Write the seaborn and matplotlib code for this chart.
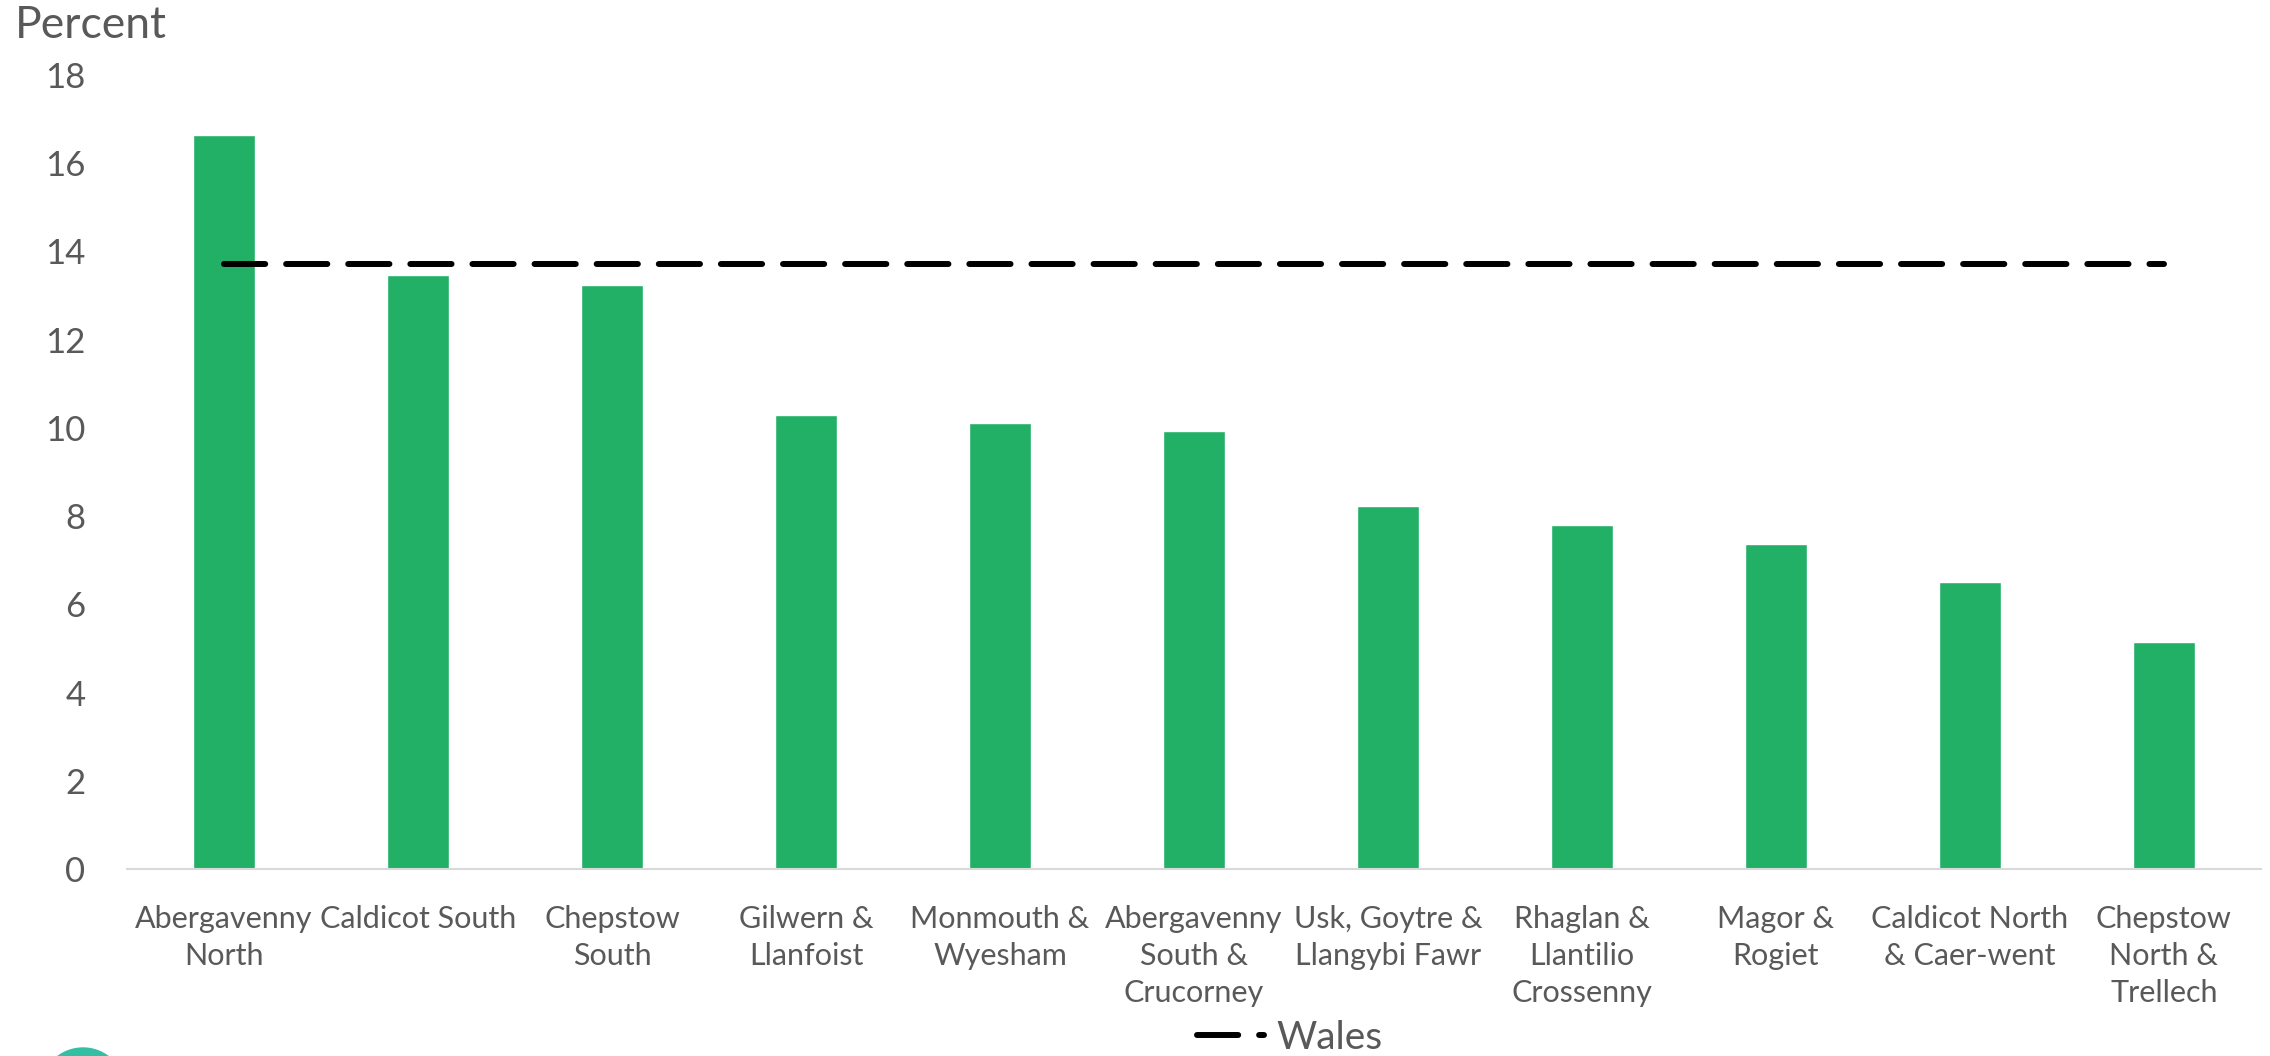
import matplotlib
matplotlib.use("Agg")
import matplotlib.pyplot as plt
import numpy as np
import pandas as pd
import seaborn as sns
from matplotlib.patches import Circle

# Chart data (percent)
areas = [
    "Abergavenny North",
    "Caldicot South",
    "Chepstow South",
    "Gilwern & Llanfoist",
    "Monmouth & Wyesham",
    "Abergavenny South & Crucorney",
    "Usk, Goytre & Llangybi Fawr",
    "Rhaglan & Llantilio Crossenny",
    "Magor & Rogiet",
    "Caldicot North & Caer-went",
    "Chepstow North & Trellech",
]
area_labels = [
    "Abergavenny\nNorth",
    "Caldicot South",
    "Chepstow\nSouth",
    "Gilwern &\nLlanfoist",
    "Monmouth &\nWyesham",
    "Abergavenny\nSouth &\nCrucorney",
    "Usk, Goytre &\nLlangybi Fawr",
    "Rhaglan &\nLlantilio\nCrossenny",
    "Magor &\nRogiet",
    "Caldicot North\n& Caer-went",
    "Chepstow\nNorth &\nTrellech",
]
percent = [16.64, 13.47, 13.24, 10.29, 10.11, 9.93, 8.23, 7.80, 7.37, 6.51, 5.15]
wales_value = 13.71
y_ticks = [0, 2, 4, 6, 8, 10, 12, 14, 16, 18]

GREEN = "#22B067"
GREY = "#595959"

sns.set_theme(style="white")
plt.rcParams["font.family"] = ["Lato", "DejaVu Sans"]

df = pd.DataFrame({"area": areas, "percent": percent})

fig = plt.figure(figsize=(22.7, 10.56), dpi=100)
ax = fig.add_axes([0.056, 0.177, 0.940, 0.752])

sns.barplot(data=df, x="area", y="percent", color=GREEN, width=0.32,
            saturation=1, ax=ax, zorder=2)

# Wales average, drawn across the bar centres
sns.lineplot(x=np.arange(len(areas)), y=[wales_value] * len(areas), ax=ax,
             color="black", linewidth=4.3, label="Wales", zorder=3,
             dash_capstyle="round")
ax.lines[-1].set_linestyle((0, (6.9, 3.5)))

ax.set_ylim(0, 18)
ax.set_xlim(-0.5, len(areas) - 0.5)
ax.set_yticks(y_ticks)
ax.set_xticks(np.arange(len(areas)))
ax.set_xticklabels(area_labels, fontsize=22, color=GREY, linespacing=1.38)
ax.tick_params(axis="y", labelsize=25, labelcolor=GREY, length=0, pad=30)
ax.tick_params(axis="x", length=0, pad=26)
ax.set_xlabel("")
ax.set_ylabel("")

for side in ["top", "right", "left"]:
    ax.spines[side].set_visible(False)
ax.spines["bottom"].set_color("#d9d9d9")
ax.spines["bottom"].set_linewidth(1.5)

fig.text(0.0066, 0.995, "Percent", fontsize=32, color=GREY, va="top", ha="left")

ax.legend(loc="center", bbox_to_anchor=(1290 / 2270, 18 / 1056),
          bbox_transform=fig.transFigure, frameon=False, fontsize=28,
          handlelength=1.7, handletextpad=0.33, labelcolor=GREY)

# logo fragment peeking in at the bottom-left corner
fig.patches.append(Circle((83, 1056 - 1090), 42, transform=None,
                          color="#34BEA4", zorder=0))

fig.savefig("out.png", dpi=100)
